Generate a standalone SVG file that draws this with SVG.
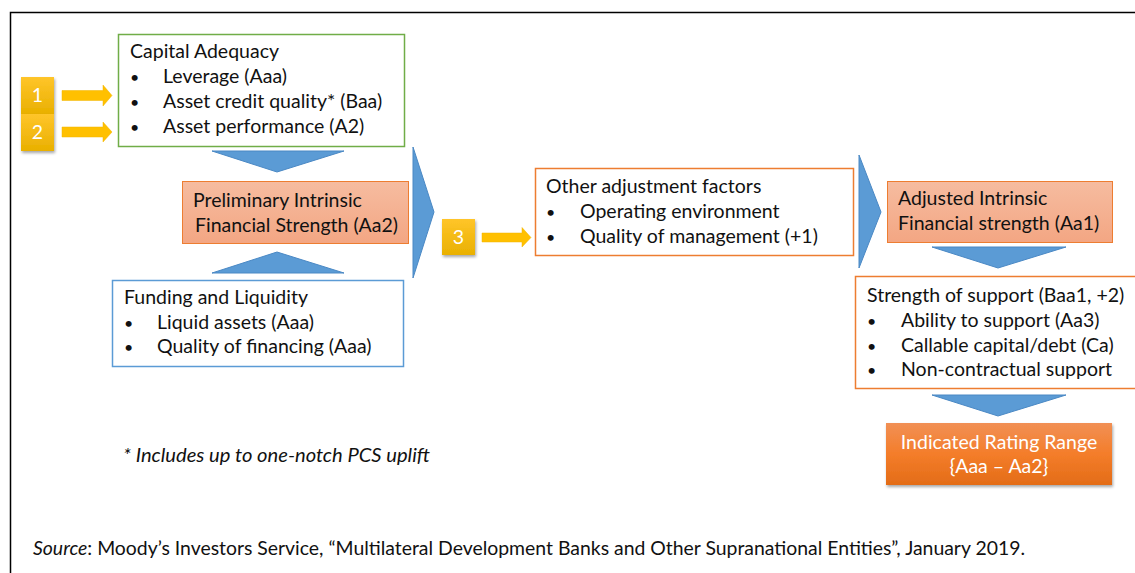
<svg xmlns="http://www.w3.org/2000/svg" width="1135" height="573" viewBox="0 0 1135 573">
<defs>
<linearGradient id="gold" x1="0" y1="0" x2="0" y2="1"><stop offset="0" stop-color="#ffc52a"/><stop offset="1" stop-color="#e9b000"/></linearGradient>
<linearGradient id="salmon" x1="0" y1="0" x2="0" y2="1"><stop offset="0" stop-color="#f6bca0"/><stop offset="1" stop-color="#f3a683"/></linearGradient>
<linearGradient id="orange" x1="0" y1="0" x2="0" y2="1"><stop offset="0" stop-color="#f19055"/><stop offset="0.5" stop-color="#f47d2a"/><stop offset="1" stop-color="#e36c17"/></linearGradient>
<filter id="sh" x="-10%" y="-10%" width="130%" height="140%"><feDropShadow dx="1" dy="2" stdDeviation="1.5" flood-color="#000" flood-opacity="0.35"/></filter>
</defs>
<style>
text{font-family:Lato,"Open Sans","Liberation Sans",sans-serif;font-size:19.5px;fill:#111}
.w{fill:#fff}
.box{fill:#fff;stroke-width:1.5}
.blue{fill:#5b9bd5;stroke:#4a88c4;stroke-width:1}
.yel{fill:#ffc000;stroke:#f0b400;stroke-width:0.5}
.badge{fill:url(#gold);filter:url(#sh)}
.it{font-style:italic}
.bul{font-size:16px}
</style>
<rect width="1135" height="573" fill="#fff"/>
<path d="M10.5 600 V12.5 H1140" fill="none" stroke="#000" stroke-width="1.5"/>

<g id="connectors">
<path class="yel" d="M62 90.5 H103 V85 L112 95.5 L103 106 V100.5 H62 Z"/>
<path class="yel" d="M62 127 H103 V122 L112 132 L103 142 V137 H62 Z"/>
<path class="yel" d="M482 233 H522 V227.5 L531 237.5 L522 247 V242 H482 Z"/>
<polygon class="blue" points="212,151 344,151 277,172"/>
<polygon class="blue" points="212,273 344,273 277,252"/>
<polygon class="blue" points="413,147 434,212 413,278"/>
<polygon class="blue" points="859,155 881,212 859,268"/>
<polygon class="blue" points="932,247 1066,247 998,268"/>
<polygon class="blue" points="932,395 1066,395 998,416"/>
</g>

<g id="badge1"><rect class="badge" x="21" y="77" width="33" height="37"/><text class="w" x="37.5" y="102" text-anchor="middle">1</text></g>
<g id="badge2"><rect class="badge" x="21" y="114" width="33" height="37"/><text class="w" x="37.5" y="139" text-anchor="middle">2</text></g>
<g id="badge3"><rect class="badge" x="442" y="219" width="33" height="36"/><text class="w" x="458.5" y="244" text-anchor="middle">3</text></g>

<g id="capital">
<rect class="box" x="118.5" y="34.5" width="286" height="112" stroke="#70ad47"/>
<text x="130" y="58">Capital Adequacy</text>
<text class="bul" x="130" y="83">•</text><text x="163" y="83">Leverage (Aaa)</text>
<text class="bul" x="130" y="108">•</text><text x="163" y="108">Asset credit quality* (Baa)</text>
<text class="bul" x="130" y="133">•</text><text x="163" y="133">Asset performance (A2)</text>
</g>

<g id="preliminary">
<rect x="182.5" y="181.5" width="226" height="62" fill="url(#salmon)" stroke="#ed7d31" stroke-width="1"/>
<text x="193" y="207">Preliminary Intrinsic</text>
<text x="195" y="232">Financial Strength (Aa2)</text>
</g>

<g id="funding">
<rect class="box" x="112.5" y="280.5" width="291" height="86" stroke="#5b9bd5"/>
<text x="124" y="304">Funding and Liquidity</text>
<text class="bul" x="124" y="329">•</text><text x="157" y="329">Liquid assets (Aaa)</text>
<text class="bul" x="124" y="353">•</text><text x="157" y="353">Quality of financing (Aaa)</text>
</g>

<g id="other">
<rect class="box" x="535.5" y="168.5" width="318" height="87" stroke="#ed7d31"/>
<text x="546" y="193">Other adjustment factors</text>
<text class="bul" x="546" y="218">•</text><text x="580" y="218">Operating environment</text>
<text class="bul" x="546" y="243">•</text><text x="580" y="243">Quality of management (+1)</text>
</g>

<g id="adjusted">
<rect x="887.5" y="181.5" width="225" height="61" fill="url(#salmon)" stroke="#ed7d31" stroke-width="1"/>
<text x="898" y="205">Adjusted Intrinsic</text>
<text x="898" y="230">Financial strength (Aa1)</text>
</g>

<g id="support">
<rect class="box" x="855.5" y="276.5" width="290" height="112" stroke="#ed7d31"/>
<text x="867" y="302">Strength of support (Baa1, +2)</text>
<text class="bul" x="867" y="327">•</text><text x="901" y="327">Ability to support (Aa3)</text>
<text class="bul" x="867" y="352">•</text><text x="901" y="352">Callable capital/debt (Ca)</text>
<text class="bul" x="867" y="376">•</text><text x="901" y="376">Non-contractual support</text>
</g>

<g id="indicated">
<rect x="886" y="423" width="226" height="62" fill="url(#orange)" filter="url(#sh)"/>
<text class="w" x="999" y="449" text-anchor="middle">Indicated Rating Range</text>
<text class="w" x="999" y="473" text-anchor="middle">{Aaa – Aa2}</text>
</g>

<g id="notes">
<text class="it" x="123" y="462" font-size="19.5" textLength="307" lengthAdjust="spacingAndGlyphs">* Includes up to one-notch PCS uplift</text>
<text x="33" y="555" font-size="16.5" textLength="992" lengthAdjust="spacingAndGlyphs"><tspan class="it">Source</tspan>: Moody’s Investors Service, “Multilateral Development Banks and Other Supranational Entities”, January 2019.</text>
</g>
</svg>
